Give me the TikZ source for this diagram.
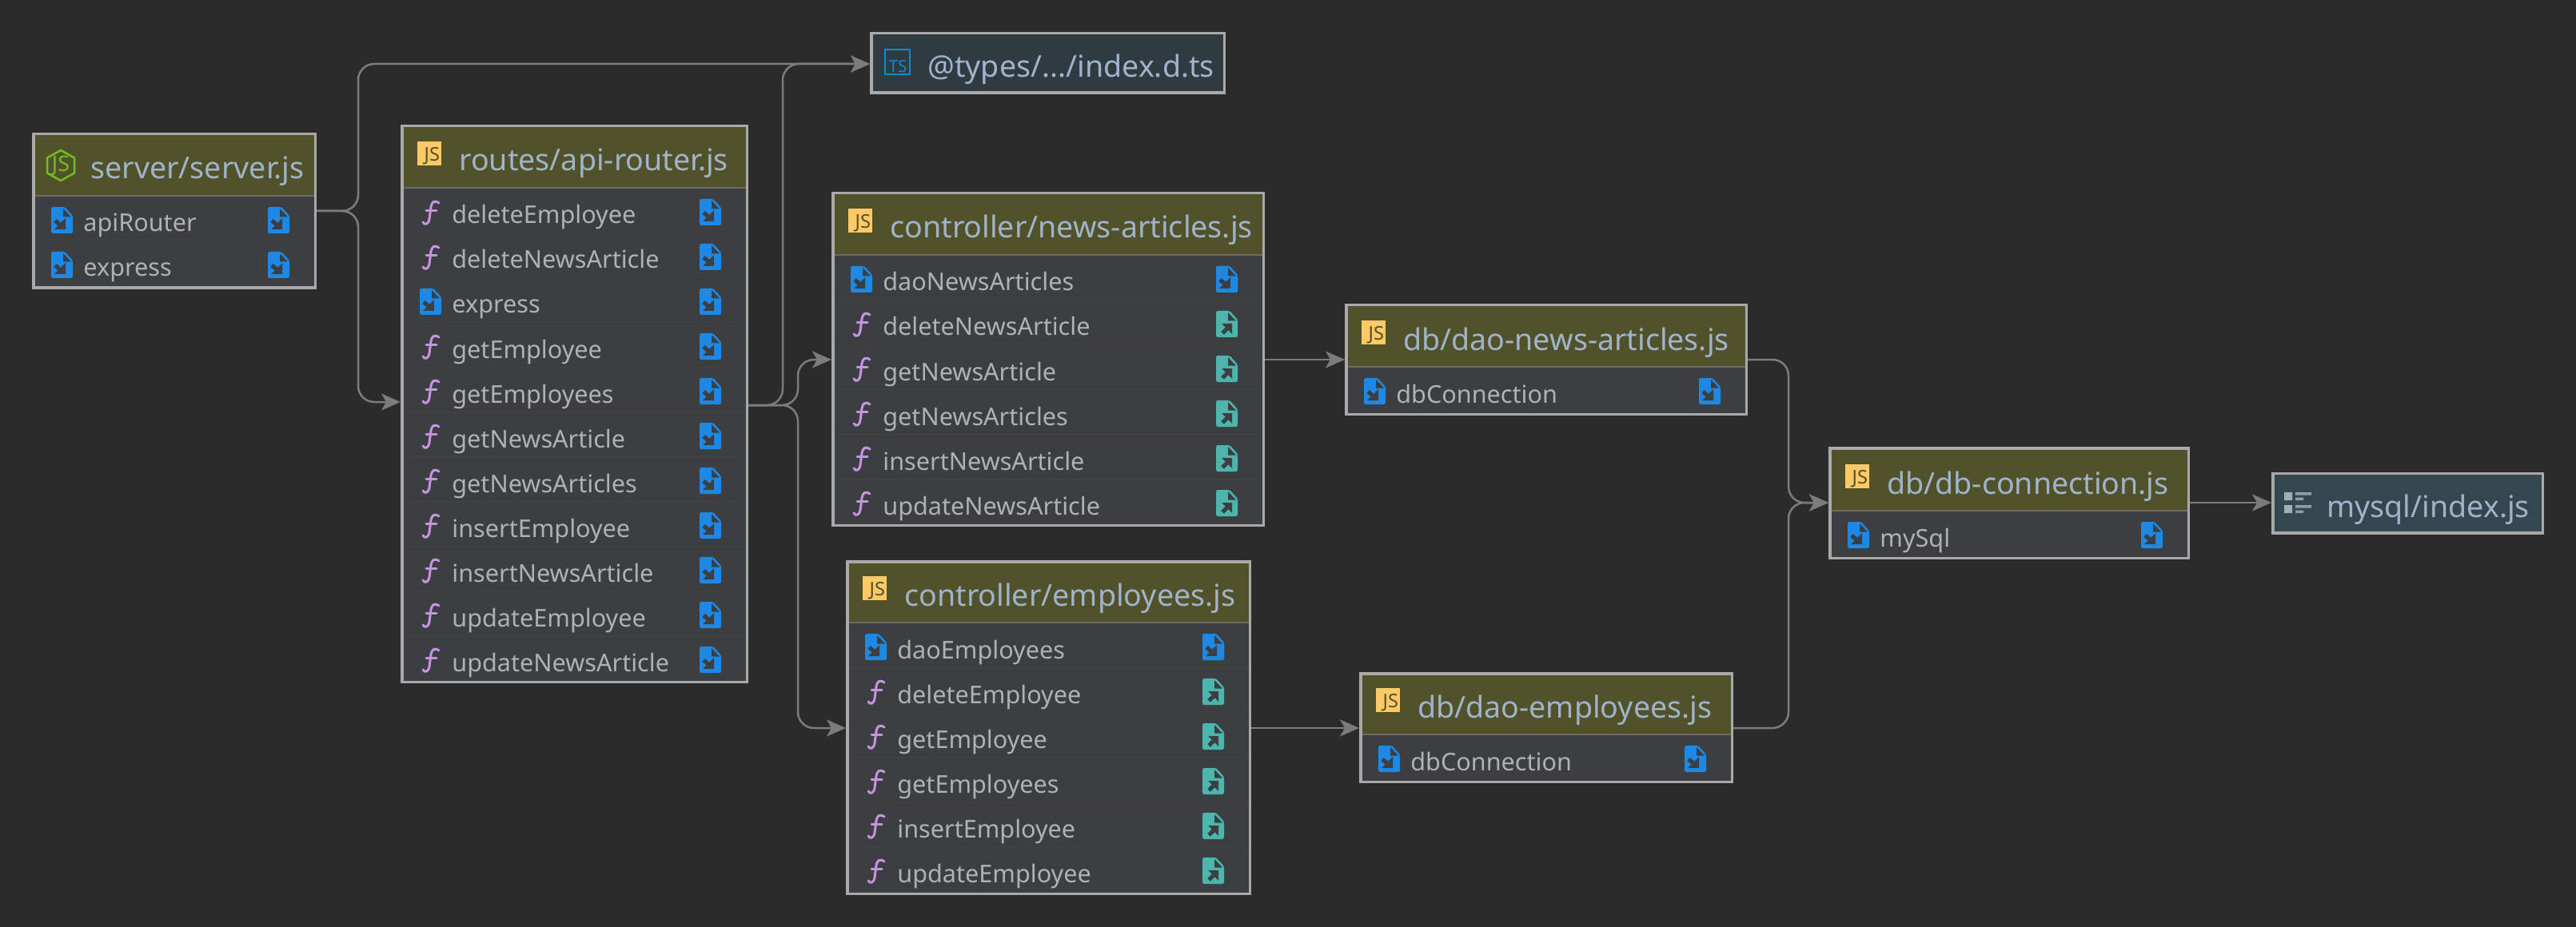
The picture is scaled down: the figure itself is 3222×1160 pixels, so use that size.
\documentclass[tikz,border=0pt]{standalone}
\usepackage{fontspec}
\setmainfont{Noto Sans}
\usetikzlibrary{arrows.meta}
\definecolor{bgcol}{HTML}{2B2B2B}
\definecolor{rowbg}{HTML}{3C3F41}
\definecolor{headbg}{HTML}{52522A}
\definecolor{typesbg}{HTML}{2F3B40}
\definecolor{mysqlbg}{HTML}{35474E}
\definecolor{framecol}{HTML}{A9A9A9}
\definecolor{headsep}{HTML}{6C6C64}
\definecolor{rowsep}{HTML}{43453A}
\definecolor{titlecol}{HTML}{9FB4CC}
\definecolor{rowcol}{HTML}{AFB1B3}
\definecolor{linkcol}{HTML}{7C7C7C}
\definecolor{fileblue}{HTML}{1E88E5}
\definecolor{fileteal}{HTML}{4DB6AC}
\definecolor{funcpurple}{HTML}{C792E0}
\definecolor{jsyellow}{HTML}{FFC966}
\definecolor{nodegreen}{HTML}{72BB22}
\definecolor{tsblue}{HTML}{0A8BD6}
\definecolor{modgrey}{HTML}{9AB0BA}
\tikzset{
  cardframe/.style={draw=framecol,line width=1.75pt,rectangle,inner sep=0pt},
  titletext/.style={inner sep=0pt,anchor=base west,text=titlecol,font=\fontsize{18.8}{20}\selectfont},
  rowtext/.style={inner sep=0pt,anchor=base west,text=rowcol,font=\fontsize{15.3}{17}\selectfont},
  link/.style={draw=linkcol,line width=1.25pt,rounded corners=10pt},
  linkarrow/.style={link,-{Stealth[length=12pt,width=10.5pt,inset=3pt]}},
  jsletters/.style={inner sep=0pt,anchor=south east,text=headbg,font=\bfseries\fontsize{11.8}{12}\selectfont},
  importicon/.pic={
    \fill[fileblue,rounded corners=1.2pt] (0,0) -- (17,0) -- (27,11) -- (27,33) -- (0,33) -- cycle;
    \fill[rowbg] (15,2) -- (25,12.5) -- (15,12.5) -- cycle;
    \fill[rowbg] (18,14) -- (18,28) -- (4,28) -- cycle;
    \draw[rowbg,line width=2.6pt] (5,17) -- (12,23);
  },
  exporticon/.pic={
    \fill[fileteal,rounded corners=1.2pt] (0,0) -- (17,0) -- (27,11) -- (27,33) -- (0,33) -- cycle;
    \fill[rowbg] (15,2) -- (25,12.5) -- (15,12.5) -- cycle;
    \fill[rowbg] (7,16) -- (20,16) -- (20,29) -- cycle;
    \draw[rowbg,line width=2.6pt] (8,28) -- (14,22);
  },
  funcicon/.pic={
    \draw[funcpurple,line width=1.5pt,line cap=round]
      (21,3) .. controls (15,-1) and (12,2) .. (11,8) -- (9,23) .. controls (8,30) and (3,31) .. (1,27);
    \draw[funcpurple,line width=1.5pt,line cap=round] (5,12.5) -- (18,12.5);
  },
}
\newcommand{\cardbox}[7]{% id x1 y1 x2 y2 hy title
  \pgfmathsetmacro{\cw}{(#4-#2-3.5)*0.5}
  \pgfmathsetmacro{\ch}{(#5-#3-3.5)*0.5}
  \node[cardframe,fill=rowbg,minimum width=\cw pt,minimum height=\ch pt] (#1) at ({(#2+#4)/2},{(#3+#5)/2}) {};
  \fill[headbg] (#2+3.5,#3+3.5) rectangle (#4-3.5,#6);
  \draw[headsep,line width=1pt] (#2+3.5,#6) -- (#4-3.5,#6);
  \node[titletext] (#1-title) at (#2+73,#6-21) {#7};
}
\newcommand{\jsbadge}[3]{% id x1 hy
  \fill[jsyellow] (#2+20.5,#3-58) rectangle (#2+50.5,#3-28);
  \node[jsletters] (#1-js) at (#2+49.5,#3-29) {JS};
}
\def\kindf{f}
\newcommand{\cardrows}[6]{% id x1 x2 hy righticon list
  \foreach \kind/\label [count=\i from 0] in {#6} {
    \ifnum\i>0
      \draw[rowsep,line width=0.5pt] (#2+3.5,#4+\i*56) -- (#3-3.5,#4+\i*56);
    \fi
    \ifx\kind\kindf
      \pic at (#2+27,#4+\i*56+16) {funcicon};
    \else
      \pic at (#2+24,#4+\i*56+14) {importicon};
    \fi
    \pic at (#3-61,#4+\i*56+14) {#5};
    \node[rowtext] (#1-row\i) at (#2+64,#4+\i*56+45) {\label};
  }
}
\begin{document}
\begin{tikzpicture}[x=0.5pt,y=-0.5pt]
\useasboundingbox (0,0) rectangle (3222,1160);
\fill[bgcol] (0,0) rectangle (3222,1160);

% server
\cardbox{server}{40}{166}{396}{362}{245}{server/server.js}
\draw[nodegreen,line width=1.25pt,line join=round] (76,188) -- (93,197.5) -- (93,216.5) -- (76,226) -- (59,216.5) -- (59,197.5) -- cycle;
\node[inner sep=0pt,text=nodegreen,font=\fontsize{13.5}{14}\selectfont] (server-nodejs) at (76,207) {JS};
\cardrows{server}{40}{396}{245}{importicon}{i/apiRouter,i/express}

% api router
\cardbox{api}{501}{156}{936}{855}{235}{routes/api-router.js}
\jsbadge{api}{501}{235}
\cardrows{api}{501}{936}{235}{importicon}{f/deleteEmployee,f/deleteNewsArticle,i/express,f/getEmployee,f/getEmployees,f/getNewsArticle,f/getNewsArticles,f/insertEmployee,f/insertNewsArticle,f/updateEmployee,f/updateNewsArticle}

% types
\node[cardframe,fill=typesbg,minimum width=220.75pt,minimum height=37.25pt] (types) at (1310.5,79) {};
\draw[tsblue,line width=1pt] (1106.5,62.5) rectangle (1137.5,93.5);
\node[inner sep=0pt,anchor=south east,text=tsblue,font=\bfseries\fontsize{10.4}{11}\selectfont] (types-ts) at (1135,91) {TS};
\node[titletext] (types-title) at (1160,97) {@types/.../index.d.ts};

% news controller
\cardbox{news}{1040}{240}{1582}{659}{319}{controller/news-articles.js}
\jsbadge{news}{1040}{319}
\cardrows{news}{1040}{1582}{319}{exporticon}{i/daoNewsArticles,f/deleteNewsArticle,f/getNewsArticle,f/getNewsArticles,f/insertNewsArticle,f/updateNewsArticle}
\pic at (1521,333) {importicon};

% employees controller
\cardbox{emp}{1058}{701}{1565}{1120}{779}{controller/employees.js}
\jsbadge{emp}{1058}{779}
\cardrows{emp}{1058}{1565}{779}{exporticon}{i/daoEmployees,f/deleteEmployee,f/getEmployee,f/getEmployees,f/insertEmployee,f/updateEmployee}
\pic at (1504,793) {importicon};

% dao
\cardbox{daonews}{1682}{380}{2186}{520}{459}{db/dao-news-articles.js}
\jsbadge{daonews}{1682}{459}
\cardrows{daonews}{1682}{2186}{459}{importicon}{i/dbConnection}
\cardbox{daoemp}{1700}{841}{2168}{980}{919}{db/dao-employees.js}
\jsbadge{daoemp}{1700}{919}
\cardrows{daoemp}{1700}{2168}{919}{importicon}{i/dbConnection}

% connection
\cardbox{dbconn}{2287}{559}{2739}{700}{639}{db/db-connection.js}
\jsbadge{dbconn}{2287}{639}
\cardrows{dbconn}{2287}{2739}{639}{importicon}{i/mySql}

% mysql
\node[cardframe,fill=mysqlbg,minimum width=168.75pt,minimum height=37.25pt] (mysql) at (3011.5,629.5) {};
\fill[modgrey] (2857,616) rectangle (2867,626) (2857,632) rectangle (2867,642);
\fill[modgrey!85!mysqlbg] (2871,616) rectangle (2891,619.5) (2871,622.5) rectangle (2881,626)
                          (2871,632) rectangle (2891,635.5) (2871,638.5) rectangle (2881,642);
\node[titletext] (mysql-title) at (2910,647) {mysql/index.js};

% connectors
\coordinate (serverFork) at (448,264);
\coordinate (typesIn) at (0,80);
\coordinate (apiIn) at (0,503);
\coordinate (apiOut) at (936,507);
\coordinate (forkTypes) at (979,507);
\coordinate (forkCtl) at (998,507);
\coordinate (newsIn) at (0,450);
\coordinate (empIn) at (0,911);
\coordinate (dbFork) at (2237,0);
\coordinate (dbIn) at (0,629);

\draw[linkarrow] (server.east |- serverFork) -- (serverFork) -- (serverFork |- typesIn) -- (types.west |- typesIn);
\draw[linkarrow] (server.east |- serverFork) -- (serverFork) -- (serverFork |- apiIn) -- (api.west |- apiIn);
\draw[linkarrow] (apiOut) -- (forkTypes) -- (forkTypes |- typesIn) -- (types.west |- typesIn);
\draw[linkarrow] (apiOut) -- (forkCtl) -- (forkCtl |- newsIn) -- (news.west |- newsIn);
\draw[linkarrow] (apiOut) -- (forkCtl) -- (forkCtl |- empIn) -- (emp.west |- empIn);
\draw[linkarrow] (news.east |- newsIn) -- (daonews.west |- newsIn);
\draw[linkarrow] (emp.east |- empIn) -- (daoemp.west |- empIn);
\draw[linkarrow] (daonews.east |- newsIn) -- (dbFork |- newsIn) -- (dbFork |- dbIn) -- (dbconn.west |- dbIn);
\draw[linkarrow] (daoemp.east |- empIn) -- (dbFork |- empIn) -- (dbFork |- dbIn) -- (dbconn.west |- dbIn);
\draw[linkarrow] (dbconn.east |- dbIn) -- (mysql.west |- dbIn);
\end{tikzpicture}
\end{document}
